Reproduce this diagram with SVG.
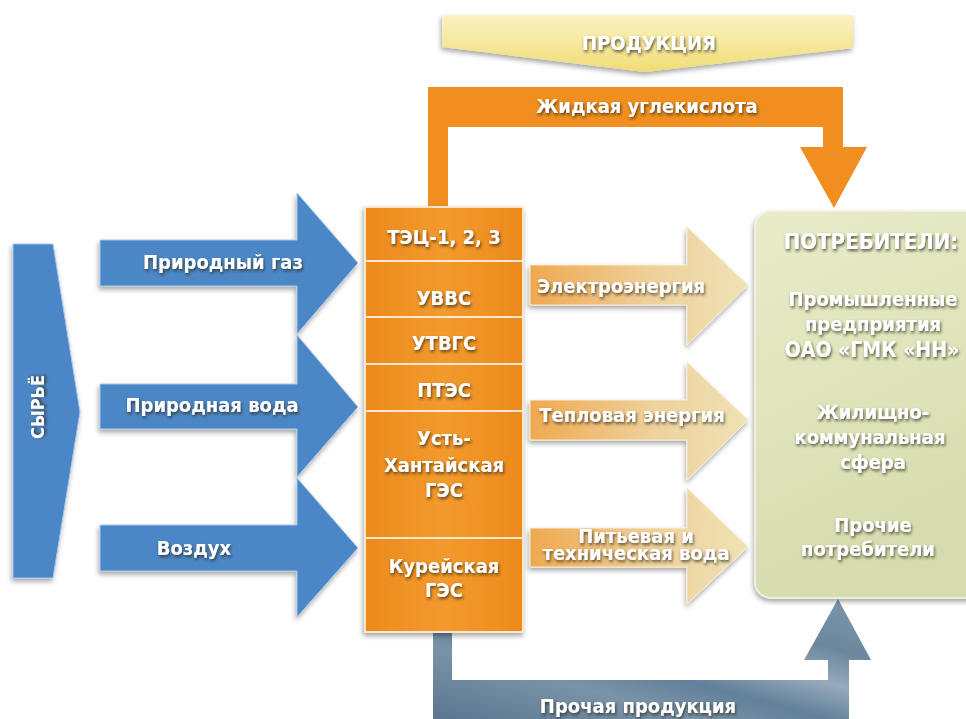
<svg xmlns="http://www.w3.org/2000/svg" width="966" height="719" viewBox="0 0 966 719">
<style>
  text { font-family: "DejaVu Sans Condensed", "DejaVu Sans", sans-serif; font-stretch: condensed; font-weight: bold; font-size: 20px; fill: #ffffff; text-anchor: middle; filter: url(#ts); }
  .f18 { font-size: 18px; }
  .f21 { font-size: 21px; }
  .f22 { font-size: 22px; }
  .blue { fill: #4b87c6; stroke: #a9c8ea; stroke-width: 1; filter: url(#sh); }
  .beige { fill: url(#gBeige); stroke: #f7efd2; stroke-width: 1; filter: url(#sh); }
  .cell { fill: url(#gOrange); stroke: #fbe8cf; stroke-width: 2; }
</style>
<defs>
  <filter id="ts" x="-15%" y="-40%" width="130%" height="180%">
    <feGaussianBlur in="SourceAlpha" stdDeviation="1.6"/>
    <feOffset dx="1" dy="1.5" result="b"/>
    <feFlood flood-color="#2b2415" flood-opacity="0.75"/>
    <feComposite in2="b" operator="in"/>
    <feMerge><feMergeNode/><feMergeNode in="SourceGraphic"/></feMerge>
  </filter>
  <filter id="sh" x="-10%" y="-10%" width="125%" height="130%">
    <feDropShadow dx="-1" dy="3" stdDeviation="2.5" flood-color="#000" flood-opacity="0.35"/>
  </filter>
  <linearGradient id="gYellow" x1="0" y1="0" x2="0" y2="1">
    <stop offset="0" stop-color="#faf3c4"/>
    <stop offset="1" stop-color="#f1dc74"/>
  </linearGradient>
  <linearGradient id="gOrange" x1="0" y1="0" x2="1" y2="0">
    <stop offset="0" stop-color="#ec8a1c"/>
    <stop offset="0.5" stop-color="#f39a2e"/>
    <stop offset="1" stop-color="#ec8a1c"/>
  </linearGradient>
  <linearGradient id="gBeige" x1="0" y1="0" x2="1" y2="0">
    <stop offset="0" stop-color="#f0a84f"/>
    <stop offset="0.55" stop-color="#eed09a"/>
    <stop offset="1" stop-color="#efe2b6"/>
  </linearGradient>
  <linearGradient id="gGreen" x1="0" y1="0" x2="0.3" y2="1">
    <stop offset="0" stop-color="#e9ecc9"/>
    <stop offset="0.5" stop-color="#dfe4bb"/>
    <stop offset="1" stop-color="#d7dcae"/>
  </linearGradient>
  <linearGradient id="gGray" x1="0" y1="1" x2="1" y2="0">
    <stop offset="0" stop-color="#5a7590"/>
    <stop offset="0.3" stop-color="#7a93a7"/>
    <stop offset="0.45" stop-color="#62809a"/>
    <stop offset="0.6" stop-color="#96aabb"/>
    <stop offset="0.75" stop-color="#6c879d"/>
    <stop offset="1" stop-color="#7e97aa"/>
  </linearGradient>
</defs>

<rect width="966" height="719" fill="#ffffff"/>

<g id="produkciya">
  <path d="M442,15 L853,15 L853,48 L645,72 L442,47 Z" fill="url(#gYellow)" filter="url(#sh)"/>
  <text x="649" y="50">ПРОДУКЦИЯ</text>
</g>

<g id="syrye">
  <path class="blue" d="M13,244 L53,244 L80,412 L53,578 L13,578 Z"/>
  <text class="f18" transform="translate(44,407) rotate(-90)" x="0" y="0">СЫРЬЁ</text>
</g>

<g id="connectors">
  <g id="co2">
    <path d="M428,207 L428,87 L843,87 L843,147 L867,147 L834,208 L800,147 L823,147 L823,127 L448,127 L448,207 Z" fill="#f08f1f"/>
    <text x="647" y="113">Жидкая углекислота</text>
  </g>
  <g id="other-products">
    <path d="M433,632 L452,632 L452,680 L828,680 L828,660 L804,660 L838,599 L871,660 L849,660 L849,719 L433,719 Z" fill="url(#gGray)"/>
    <text x="638" y="713">Прочая продукция</text>
  </g>
  <g id="gas">
    <path class="blue" d="M100,240 L297,240 L297,193 L358,263 L297,334 L297,286 L100,286 Z"/>
    <text x="223" y="269">Природный газ</text>
  </g>
  <g id="water-in">
    <path class="blue" d="M100,384 L297,384 L297,335 L358,407 L297,477 L297,429 L100,429 Z"/>
    <text x="212" y="412">Природная вода</text>
  </g>
  <g id="air">
    <path class="blue" d="M100,525 L297,525 L297,478 L358,548 L297,617 L297,571 L100,571 Z"/>
    <text x="194" y="555">Воздух</text>
  </g>
  <g id="electricity">
    <path class="beige" d="M530,265 L687,265 L687,227 L748,285 L687,345 L687,305 L530,305 Z"/>
    <text x="621" y="293">Электроэнергия</text>
  </g>
  <g id="heat">
    <path class="beige" d="M530,400 L687,400 L687,362 L748,420 L687,480 L687,440 L530,440 Z"/>
    <text x="632" y="422">Тепловая энергия</text>
  </g>
  <g id="water-out">
    <path class="beige" d="M530,528 L687,528 L687,488 L748,547 L687,604 L687,567 L530,567 Z"/>
    <text x="636" y="543">Питьевая и</text>
    <text x="636" y="560">техническая вода</text>
  </g>
</g>

<g id="column" filter="url(#sh)">
  <g id="tec">
    <rect class="cell" x="365" y="207" width="158" height="54"/>
    <text x="444" y="244">ТЭЦ-1, 2, 3</text>
  </g>
  <g id="uvvs">
    <rect class="cell" x="365" y="261" width="158" height="56"/>
    <text x="444" y="305">УВВС</text>
  </g>
  <g id="utvgs">
    <rect class="cell" x="365" y="317" width="158" height="47"/>
    <text x="444" y="350">УТВГС</text>
  </g>
  <g id="ptes">
    <rect class="cell" x="365" y="364" width="158" height="47"/>
    <text x="444" y="397">ПТЭС</text>
  </g>
  <g id="ust-hantayskaya">
    <rect class="cell" x="365" y="411" width="158" height="127"/>
    <text x="444" y="445">Усть-</text>
    <text x="444" y="472">Хантайская</text>
    <text x="444" y="497">ГЭС</text>
  </g>
  <g id="kureyskaya">
    <rect class="cell" x="365" y="538" width="158" height="94"/>
    <text x="444" y="573">Курейская</text>
    <text x="444" y="597">ГЭС</text>
  </g>
</g>

<g id="potrebiteli">
  <rect x="755" y="211" width="240" height="387" rx="16" fill="url(#gGreen)" stroke="#f3f4e4" stroke-width="1.5" filter="url(#sh)"/>
  <text class="f22" x="871" y="249">ПОТРЕБИТЕЛИ:</text>
  <text x="873" y="306">Промышленные</text>
  <text x="873" y="331">предприятия</text>
  <text class="f21" x="872" y="357">ОАО «ГМК «НН»</text>
  <text x="873" y="419">Жилищно-</text>
  <text x="870" y="444">коммунальная</text>
  <text x="873" y="469">сфера</text>
  <text x="873" y="532">Прочие</text>
  <text x="868" y="556">потребители</text>
</g>
</svg>
